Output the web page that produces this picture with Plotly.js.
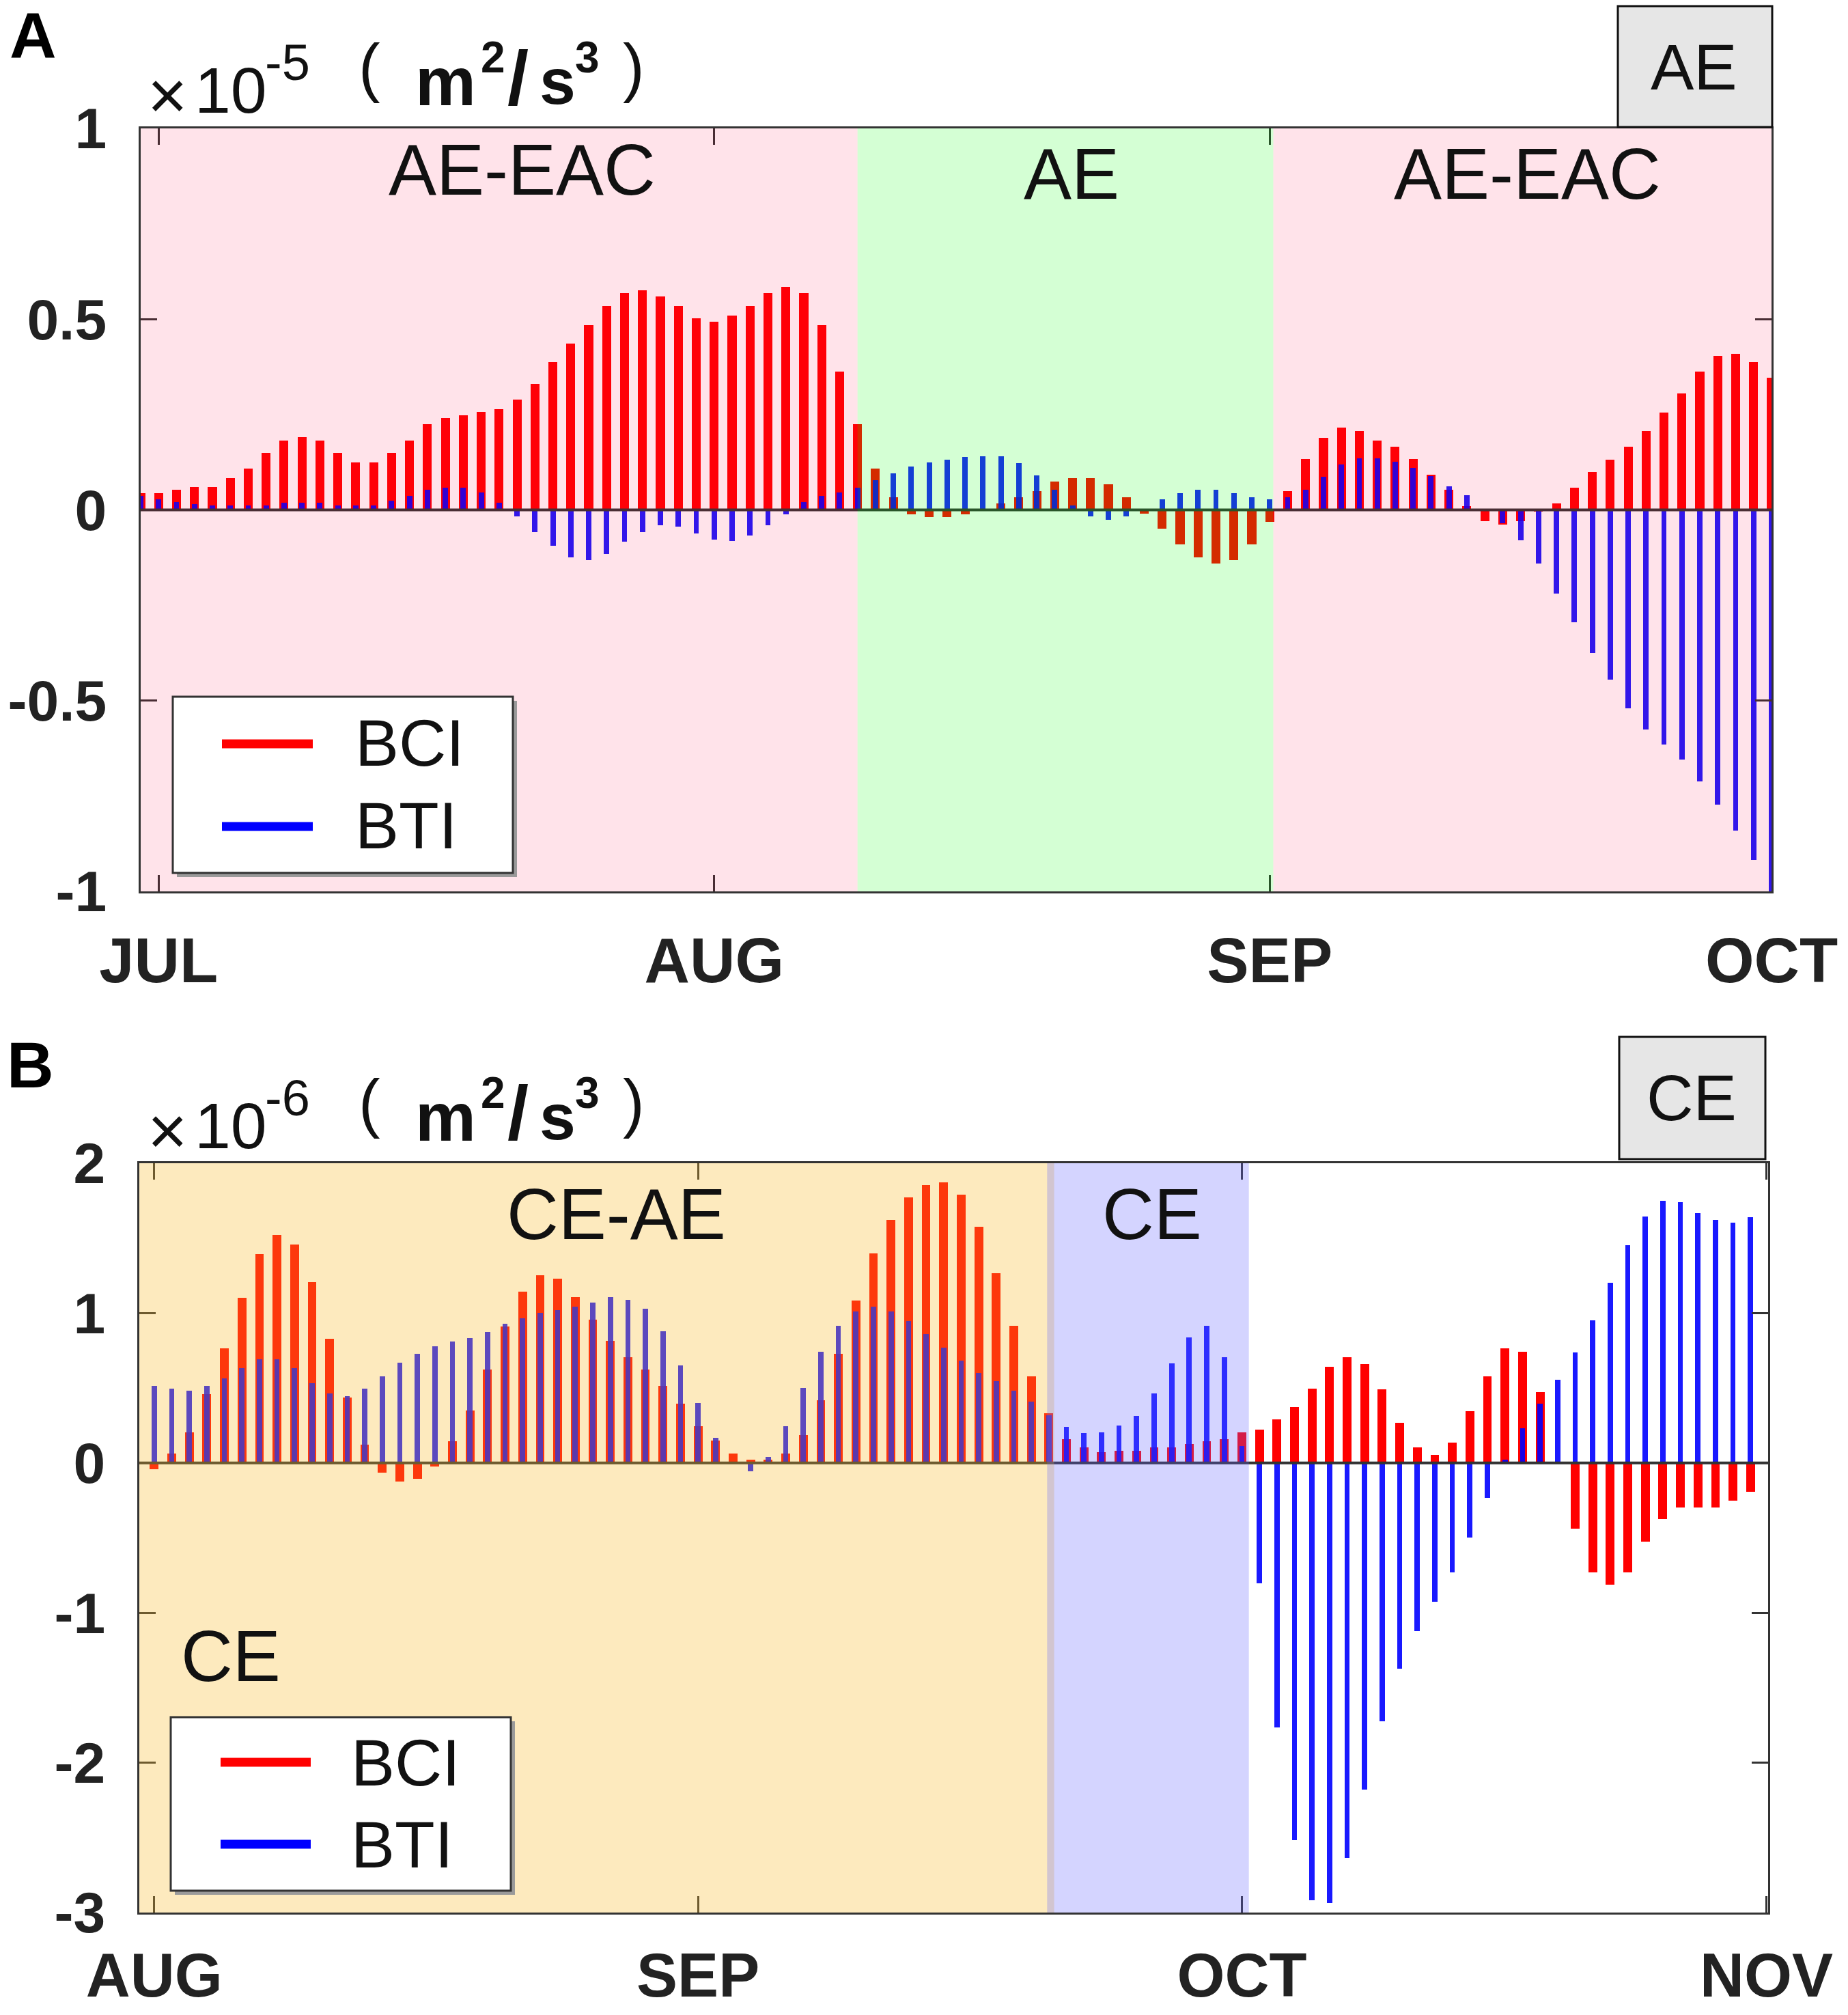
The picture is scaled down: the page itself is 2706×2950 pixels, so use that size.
<!DOCTYPE html>
<html>
<head>
<meta charset="utf-8">
<script src="https://cdn.plot.ly/plotly-3.0.1.min.js"></script>
<style>
html,body{margin:0;padding:0;background:#fff;}
#chart{width:2706px;height:2950px;}
</style>
</head>
<body>
<div id="chart"></div>
<script>
// ---------------- DATA (units: x10^-5 for panel A, x10^-6 for panel B) ----------------
// Panel A: AE, daily values from the day before JUL to the end of SEP
const monthLabelsA = ["JUL", "AUG", "SEP", "OCT"];
const monthTicksA  = [1, 32, 63, 91];
const BCI_A = [
  0.043, 0.043, 0.052, 0.06, 0.06, 0.084, 0.109, 0.15, 0.182, 0.19, 0.182, 0.15, 0.125,
  0.125, 0.15, 0.182, 0.224, 0.24, 0.248, 0.257, 0.264, 0.289, 0.33, 0.387, 0.436, 0.485,
  0.534, 0.568, 0.576, 0.559, 0.534, 0.502, 0.494, 0.51, 0.534, 0.568, 0.584, 0.568,
  0.485, 0.362, 0.224, 0.108, 0.034, -0.011, -0.018, -0.018, -0.011, 0.003, 0.017, 0.034,
  0.049, 0.075, 0.083, 0.083, 0.067, 0.034, -0.009, -0.049, -0.091, -0.124, -0.14,
  -0.132, -0.091, -0.031, 0.05, 0.133, 0.189, 0.215, 0.206, 0.182, 0.166, 0.133,
  0.092, 0.052, 0.01, -0.03, -0.038, -0.03, -0.005, 0.017, 0.058, 0.1, 0.132, 0.165,
  0.207, 0.255, 0.305, 0.362, 0.403, 0.41, 0.388, 0.347
];
const BTI_A = [
  0.037, 0.028, 0.02, 0.016, 0.012, 0.012, 0.012, 0.012, 0.019, 0.019, 0.019, 0.011, 0.011,
  0.011, 0.025, 0.037, 0.052, 0.058, 0.058, 0.045, 0.019, -0.017, -0.058, -0.094, -0.124, -0.131,
  -0.115, -0.084, -0.058, -0.04, -0.043, -0.061, -0.078, -0.082, -0.067, -0.04, -0.011, 0.02,
  0.037, 0.046, 0.059, 0.078, 0.095, 0.114, 0.125, 0.131, 0.138, 0.141, 0.141, 0.123,
  0.09, 0.052, 0.012, -0.017, -0.026, -0.017, 0.0, 0.027, 0.044, 0.052, 0.052,
  0.044, 0.034, 0.027, 0.034, 0.052, 0.087, 0.119, 0.135, 0.135, 0.127, 0.111,
  0.088, 0.062, 0.038, 0.003, -0.035, -0.08, -0.14, -0.22, -0.295, -0.375, -0.445, -0.52,
  -0.575, -0.615, -0.655, -0.712, -0.772, -0.84, -0.918, -1.05
];
const yTicksA = [-1, -0.5, 0, 0.5, 1];
const yTickTextA = ["-1", "-0.5", "0", "0.5", "1"];
const regionsA = [
  {label: "AE-EAC", start: 0,    end: 40},
  {label: "AE",     start: 40,   end: 63.2},
  {label: "AE-EAC", start: 63.2, end: 91}
];
const exponentA = "-5";

// Panel B: CE, daily values AUG to OCT
const monthLabelsB = ["AUG", "SEP", "OCT", "NOV"];
const monthTicksB  = [0, 31, 62, 91.9];
const BCI_B = [
  -0.043, 0.065, 0.206, 0.459, 0.767, 1.102, 1.394, 1.52, 1.457, 1.206, 0.83, 0.435,
  0.122, -0.066, -0.125, -0.106, -0.022, 0.143, 0.351, 0.624, 0.91, 1.143, 1.251, 1.229,
  1.108, 0.955, 0.815, 0.704, 0.624, 0.516, 0.394, 0.247, 0.149, 0.063, 0.023, 0.023,
  0.063, 0.188, 0.418, 0.728, 1.084, 1.398, 1.622, 1.771, 1.855, 1.873, 1.792,
  1.578, 1.267, 0.914, 0.577, 0.33, 0.16, 0.106, 0.07, 0.08, 0.08, 0.103, 0.103,
  0.128, 0.144, 0.16, 0.202, 0.224, 0.289, 0.375, 0.497, 0.641, 0.706, 0.66,
  0.491, 0.266, 0.103, 0.055, 0.138, 0.346, 0.577, 0.763, 0.744, 0.471, 0.0,
  -0.439, -0.731, -0.811, -0.731, -0.523, -0.375, -0.298, -0.298, -0.298, -0.25, -0.192
];
const BTI_B = [
  0.516, 0.498, 0.48, 0.513, 0.565, 0.633, 0.69, 0.69, 0.633, 0.534, 0.466, 0.448,
  0.498, 0.579, 0.668, 0.728, 0.78, 0.812, 0.833, 0.875, 0.928, 0.964, 1.0, 1.018,
  1.045, 1.068, 1.108, 1.09, 1.027, 0.88, 0.651, 0.4, 0.167, 0.0, -0.054, 0.041,
  0.244, 0.502, 0.74, 0.914, 1.009, 1.045, 1.009, 0.946, 0.86, 0.771, 0.681,
  0.603, 0.545, 0.481, 0.411, 0.32, 0.241, 0.199, 0.202, 0.25, 0.314, 0.465, 0.664,
  0.84, 0.914, 0.706, 0.112, -0.802, -1.764, -2.518, -2.919, -2.935, -2.636, -2.178,
  -1.722, -1.373, -1.123, -0.924, -0.731, -0.497, -0.234, 0.02, 0.231, 0.394, 0.555,
  0.738, 0.953, 1.203, 1.453, 1.645, 1.748, 1.742, 1.668, 1.62, 1.604, 1.642
];
const yTicksB = [-3, -2, -1, 0, 1, 2];
const yTickTextB = ["-3", "-2", "-1", "0", "1", "2"];
const regionsB = [
  {label: "CE-AE", start: -0.85, end: 51.3},
  {label: "CE",    start: 50.9,  end: 62.4}
];
const exponentB = "-6";
const seriesNames = ["BCI", "BTI"];

// ---------------- LAYOUT HELPERS ----------------
const W = 2706, H = 2950;
const px = x => x / W;
const py = y => 1 - y / H;
const FONT = "Liberation Sans, Arial, Helvetica, sans-serif";
const dayA = BCI_A.map((_, i) => i);
const dayB = BCI_B.map((_, i) => i);

const RED = "rgb(255,0,0)";
const BLUE = "rgb(0,0,255)";

const traces = [
  {type: "bar", x: dayA, y: BCI_A, width: 0.5, name: seriesNames[0], marker: {color: RED, line: {width: 0}}, xaxis: "x", yaxis: "y", showlegend: false},
  {type: "bar", x: dayA, y: BTI_A, width: 0.3, name: seriesNames[1], marker: {color: BLUE, opacity: 0.9, line: {width: 0}}, xaxis: "x", yaxis: "y", showlegend: false},
  {type: "bar", x: dayB, y: BCI_B, width: 0.5, name: seriesNames[0], marker: {color: RED, line: {width: 0}}, xaxis: "x2", yaxis: "y2", showlegend: false},
  {type: "bar", x: dayB, y: BTI_B, width: 0.3, name: seriesNames[1], marker: {color: BLUE, opacity: 0.9, line: {width: 0}}, xaxis: "x2", yaxis: "y2", showlegend: false}
];

const axisCommon = {
  showgrid: false, zeroline: false, showline: true, linecolor: "#333", linewidth: 3,
  mirror: "ticks", ticks: "inside", ticklen: 24, tickwidth: 3, tickcolor: "#333",
  tickmode: "array", fixedrange: true
};
const xTickFontA = {family: FONT, size: 92, color: "#222", weight: "bold"};
const xTickFontB = {family: FONT, size: 90, color: "#222", weight: "bold"};
const yTickFont = {family: FONT, size: 84, color: "#222", weight: "bold"};

const patchColorsA = ["rgba(255,0,60,0.11)", "rgba(0,255,0,0.17)", "rgba(255,0,60,0.11)"];
const patchColorsB = ["rgba(250,185,40,0.30)", "rgba(100,100,255,0.28)"];

const shapes = [];
// zero lines (drawn above bars, below the coloured patches)
shapes.push({type: "line", xref: "x domain", yref: "y", x0: 0, x1: 1, y0: 0, y1: 0, line: {color: "#333", width: 4}, layer: "above"});
shapes.push({type: "line", xref: "x2 domain", yref: "y2", x0: 0, x1: 1, y0: 0, y1: 0, line: {color: "#333", width: 4}, layer: "above"});
regionsA.forEach((r, i) => shapes.push({type: "rect", xref: "x", yref: "y domain", x0: r.start, x1: r.end, y0: 0, y1: 1, fillcolor: patchColorsA[i], line: {width: 0}, layer: "above"}));
regionsB.forEach((r, i) => shapes.push({type: "rect", xref: "x2", yref: "y2 domain", x0: r.start, x1: r.end, y0: 0, y1: 1, fillcolor: patchColorsB[i], line: {width: 0}, layer: "above"}));

// legend boxes
function legendBox(x0, y0, x1, y1) {
  shapes.push({type: "rect", xref: "paper", yref: "paper", x0: px(x0 + 6), x1: px(x1 + 6), y0: py(y1 + 6), y1: py(y0 + 6), fillcolor: "#9a9a9a", line: {width: 0}, layer: "above"});
  shapes.push({type: "rect", xref: "paper", yref: "paper", x0: px(x0), x1: px(x1), y0: py(y1), y1: py(y0), fillcolor: "#ffffff", line: {color: "#333", width: 3}, layer: "above"});
}
legendBox(253, 1020, 751, 1278);
legendBox(250, 2514, 748, 2768);
function legendLine(x0, x1, y, color) {
  shapes.push({type: "line", xref: "paper", yref: "paper", x0: px(x0), x1: px(x1), y0: py(y), y1: py(y), line: {color: color, width: 13}, layer: "above"});
}
legendLine(325, 458, 1089, RED);
legendLine(325, 458, 1210, BLUE);
legendLine(323, 455, 2580, RED);
legendLine(323, 455, 2700, BLUE);

// tag boxes (AE / CE)
shapes.push({type: "rect", xref: "paper", yref: "paper", x0: px(2369), x1: px(2595), y0: py(186), y1: py(9), fillcolor: "#e6e6e6", line: {color: "#111", width: 3}, layer: "above"});
shapes.push({type: "rect", xref: "paper", yref: "paper", x0: px(2371), x1: px(2585), y0: py(1697), y1: py(1518), fillcolor: "#e6e6e6", line: {color: "#111", width: 3}, layer: "above"});

function ann(text, x, y, size, opts) {
  const o = opts || {};
  return {
    text: text, xref: "paper", yref: "paper", x: px(x), y: py(y),
    xanchor: o.xanchor || "center", yanchor: "middle", showarrow: false,
    font: {family: FONT, size: size, color: o.color || "#111", weight: o.bold ? "bold" : "normal"}
  };
}
// unit label "×10^n ( m²/s³ )" built from individually placed pieces
function unitLabel(exp, dy) {
  const L = {xanchor: "left"};
  const LB = {xanchor: "left", bold: true};
  return [
    ann("×", 214, 139 + dy, 100, L),
    ann("10", 283, 132 + dy, 95, L),
    ann(exp, 386, 92 + dy, 74, L),
    ann("(", 523, 98 + dy, 95, L),
    ann("m", 606, 119 + dy, 100, LB),
    ann("2", 702, 84 + dy, 64, LB),
    ann("/", 741, 114 + dy, 112, LB),
    ann("s", 788, 119 + dy, 95, LB),
    ann("3", 840, 84 + dy, 64, LB),
    ann(")", 910, 98 + dy, 95, L)
  ];
}

const annotations = [
  ann("A", 12, 52, 95, {xanchor: "left", bold: true, color: "#000"}),
  ann("B", 8, 1559, 95, {xanchor: "left", bold: true, color: "#000"}),
  ...unitLabel(exponentA, 0),
  ...unitLabel(exponentB, 1516),
  ann(regionsA[0].label, 764, 248, 105),
  ann(regionsA[1].label, 1569, 255, 105),
  ann(regionsA[2].label, 2236, 255, 105),
  ann("AE", 2480, 98, 95),
  ann(regionsB[0].label, 903, 1777, 105),
  ann(regionsB[1].label, 1687, 1777, 105),
  ann("CE", 338, 2424, 105),
  ann("CE", 2477, 1607, 95),
  ann(seriesNames[0], 518, 1088, 96, {xanchor: "left"}),
  ann(seriesNames[1], 518, 1208, 96, {xanchor: "left"}),
  ann(seriesNames[0], 512, 2580, 96, {xanchor: "left"}),
  ann(seriesNames[1], 512, 2700, 96, {xanchor: "left"})
];

const layout = {
  width: W, height: H, autosize: false,
  margin: {l: 0, r: 0, t: 0, b: 0, pad: 0},
  paper_bgcolor: "#ffffff", plot_bgcolor: "#ffffff",
  barmode: "overlay", bargap: 0,
  showlegend: false,
  xaxis: Object.assign({}, axisCommon, {
    domain: [px(206), px(2594)], range: [0, 91], anchor: "y",
    tickvals: monthTicksA, ticktext: monthLabelsA, tickfont: xTickFontA, ticklabelstandoff: 20
  }),
  yaxis: Object.assign({}, axisCommon, {
    domain: [py(1305), py(188)], range: [-1, 1], anchor: "x",
    tickvals: yTicksA, ticktext: yTickTextA, tickfont: yTickFont, ticklabelstandoff: 30
  }),
  xaxis2: Object.assign({}, axisCommon, {
    domain: [px(204), px(2589)], range: [-0.85, 92], anchor: "y2",
    tickvals: monthTicksB, ticktext: monthLabelsB, tickfont: xTickFontB, ticklabelstandoff: 12
  }),
  yaxis2: Object.assign({}, axisCommon, {
    domain: [py(2800), py(1703)], range: [-3, 2], anchor: "x2",
    tickvals: yTicksB, ticktext: yTickTextB, tickfont: yTickFont, ticklabelstandoff: 30
  }),
  shapes: shapes,
  annotations: annotations
};

Plotly.newPlot("chart", traces, layout, {displayModeBar: false, staticPlot: true});
</script>
</body>
</html>
